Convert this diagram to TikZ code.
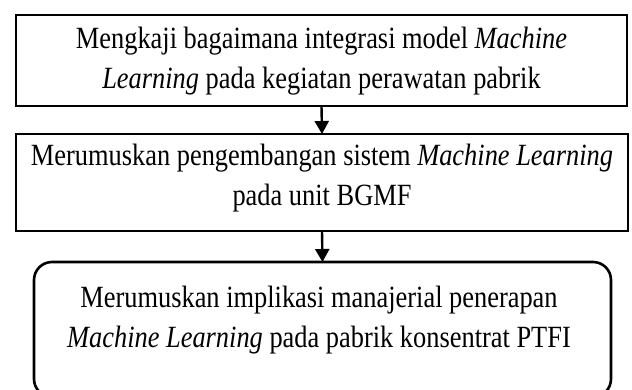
\documentclass[tikz,border=0pt]{standalone}
\usepackage{fontspec}
\setmainfont{Liberation Serif}
\usetikzlibrary{arrows.meta}
\begin{document}
\begin{tikzpicture}[x=1pt,y=1pt,
  boxstyle/.style={draw=black, line width=2.6pt, fill=none, inner sep=0pt, outer sep=0pt},
  txt/.style={align=center, inner sep=0pt, yscale=1.17, transform shape, font=\fontsize{26.4}{34}\selectfont},
  arr/.style={line width=2.4pt, -{Triangle[width=14pt,length=13pt]}}]
  \useasboundingbox (0,0) rectangle (632,-390);
  \node[boxstyle, minimum width=611pt, minimum height=91pt] (b1) at (321.5,-60.5) {};
  \node[txt] (t1) at (321.5,-61) {Mengkaji bagaimana integrasi model \textit{Machine}\\\textit{Learning} pada kegiatan perawatan pabrik};
  \node[boxstyle, minimum width=612pt, minimum height=97pt] (b2) at (322,-182.5) {};
  \node[txt] (t2) at (322,-178) {Merumuskan pengembangan sistem \textit{Machine Learning}\\pada unit BGMF};
  \node[boxstyle, rounded corners=18pt, minimum width=577pt, minimum height=135pt] (b3) at (322.5,-329.5) {};
  \node[txt] (t3) at (319,-320) {Merumuskan implikasi manajerial penerapan\\\textit{Machine Learning} pada pabrik konsentrat PTFI};
  \draw[arr] (b1.south) -- (b2.north);
  \draw[arr] (b2.south) -- (b3.north);
\end{tikzpicture}
\end{document}
